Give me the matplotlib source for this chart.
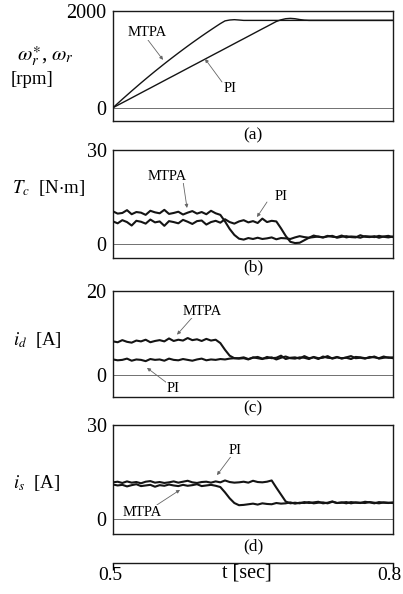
import numpy as np
import matplotlib
matplotlib.use("Agg")
import matplotlib.pyplot as plt

plt.rcParams['font.family'] = ['Liberation Serif', 'DejaVu Serif']
plt.rcParams['mathtext.fontset'] = 'stix'

# ---------------- data (sampled every 5 ms, 0.5 s .. 0.8 s) ----------------
t_grid = np.linspace(0.5, 0.8, 61)

speed_mtpa = [0, 88, 175, 260, 345, 428, 511, 592, 672, 751, 828, 905, 980, 1054,
              1127, 1199, 1270, 1340, 1408, 1476, 1542, 1607, 1671, 1734, 1790,
              1808, 1815, 1808, 1800] + [1800] * 32
speed_pi = [0, 51, 102, 152, 203, 254, 305, 356, 406, 457, 508, 559, 610, 660, 711,
            762, 813, 864, 914, 965, 1016, 1067, 1118, 1168, 1219, 1270, 1321, 1372,
            1422, 1473, 1524, 1575, 1626, 1676, 1727, 1778,
            1812, 1835, 1842, 1835, 1818, 1805] + [1800] * 19

te_mtpa = [10.4, 9.7, 9.9, 10.8, 9.5, 10.2, 10.0, 9.3, 10.6, 10.1, 9.8, 10.9, 9.6, 9.9,
           10.3, 9.4, 10.0, 10.5, 9.7, 10.2, 9.5, 10.6, 9.8, 9.3,
           7.2, 4.8, 2.9, 1.7, 1.4, 1.9, 1.6,
           2.0, 1.6, 1.8, 2.1, 1.5, 1.9, 1.8, 1.6,
           2.1, 2.5, 2.2, 2.0, 2.7, 2.3, 2.1, 2.4, 2.6, 2.0, 2.3, 2.5, 2.2, 2.1, 2.8,
           2.3, 2.2, 2.5, 2.0, 2.4, 2.6, 2.2]
te_pi = [7.2, 6.6, 7.6, 7.0, 5.9, 7.4, 7.1, 6.5, 7.8, 6.9, 7.2, 5.8, 7.3, 7.0, 6.6, 7.7,
         7.1, 6.4, 7.3, 7.5, 6.2, 7.0, 7.4, 6.8, 7.9, 7.0, 6.5, 7.2, 7.6, 6.9, 7.3, 6.7,
         8.1, 7.0, 7.4, 7.2,
         5.0, 2.6, 0.7, 0.3, 0.4, 1.2, 2.0,
         2.2, 2.4, 2.1, 2.6, 2.3, 2.2, 2.7, 2.1, 2.4, 2.3, 2.0, 2.5, 2.4, 2.2, 2.6,
         2.3, 2.1, 2.4]

id_mtpa = [8.0, 7.8, 8.3, 7.9, 7.7, 8.2, 8.0, 8.4, 7.8, 8.1, 8.3, 8.0, 8.7, 8.1, 8.4,
           8.2, 8.8, 8.3, 8.5, 8.1, 8.6, 8.2, 8.4,
           7.6, 6.0, 4.6, 4.0,
           3.9, 4.0, 3.7, 4.2, 4.0, 3.8, 4.3, 4.0, 4.1, 4.6, 3.8, 4.1, 4.2, 3.9, 4.5,
           4.0, 4.2, 3.8, 4.4, 4.1, 4.0, 4.3, 3.9, 4.2, 4.5, 4.0, 4.1, 3.9, 4.3, 4.2,
           4.0, 4.4, 4.1, 4.2]
id_pi = [3.7, 3.5, 3.6, 3.9, 3.4, 3.7, 3.6, 3.3, 3.8, 3.6, 3.7, 3.4, 3.9, 3.6, 3.5,
         3.8, 3.6, 3.4, 3.7, 3.9, 3.5, 3.7, 3.6, 3.8, 3.7, 3.9, 4.0,
         4.0, 4.2, 3.8, 4.1, 4.3, 3.9, 4.0, 4.2, 3.7, 4.1, 4.4, 4.0, 3.9, 4.2, 4.1,
         3.8, 4.3, 4.0, 4.1, 4.5, 3.9, 4.2, 4.0, 4.1, 3.8, 4.3, 4.2, 4.0, 4.1, 4.4,
         3.9, 4.1, 4.2, 4.0]

is_mtpa = [11.0, 10.7, 10.9, 10.4, 10.8, 11.1, 10.5, 10.7, 10.9, 10.3, 10.8, 10.6,
           11.0, 10.7, 10.5, 10.9, 10.6, 10.8, 11.1, 10.5, 10.7, 10.9, 10.6,
           10.2, 8.5, 6.6, 5.1, 4.4, 4.5,
           4.7, 4.9, 4.6, 5.0, 4.8, 4.7, 5.1, 4.9, 5.0, 5.3, 4.9, 5.2, 5.1, 5.4, 5.0,
           5.2, 5.3, 5.0, 5.5, 5.1, 5.2, 5.4, 5.0, 5.3, 5.2, 5.1, 5.4, 5.2, 5.0, 5.3,
           5.2, 5.1]
is_pi = [11.7, 11.9, 11.5, 12.0, 11.6, 11.8, 11.4, 11.9, 12.1, 11.6, 11.8, 11.5, 11.7,
         12.0, 11.6, 11.9, 12.2, 11.7, 11.5, 11.8, 11.9, 11.6, 12.0, 11.7, 12.3, 11.8,
         11.6, 11.7, 11.9, 11.6, 12.2, 11.8, 11.7, 11.9, 12.3,
         10.0, 7.8, 5.6, 5.0,
         5.2, 5.0, 5.4, 5.1, 5.3, 5.5, 5.0, 5.2, 5.6, 5.1, 5.3, 5.0, 5.4, 5.2, 5.1,
         5.5, 5.3, 5.0, 5.4, 5.2, 5.1, 5.3]

panel_tags = ['(a)', '(b)', '(c)', '(d)']
y_tops = [2000, 30, 20, 30]
y_bottoms = [-274, -4.47, -5.24, -4.79]
time_ticks = [0.5, 0.8]

# ---------------- layout ----------------
W, H = 403, 594
fig = plt.figure(figsize=(W / 100, H / 100), dpi=100)
fig.patch.set_facecolor('white')

def px_axes(left, top, right, bottom):
    return fig.add_axes([left / W, 1 - bottom / H, (right - left) / W, (bottom - top) / H])

frames = [(113, 10.7, 393, 121), (113, 150, 393, 258), (113, 291, 393, 397), (113, 425, 393, 534)]
series = [(speed_mtpa, speed_pi), (te_mtpa, te_pi), (id_mtpa, id_pi), (is_mtpa, is_pi)]
lws = [1.0, 1.5, 1.5, 1.5]

axes = []
for k, fr in enumerate(frames):
    ax = px_axes(*fr)
    axes.append(ax)
    ax.set_xlim(0.5, 0.8)
    ax.set_ylim(y_bottoms[k], y_tops[k])
    ax.axhline(0, color='0.35', lw=0.6, zorder=1)
    m, p = series[k]
    ax.plot(t_grid, p, color='0.08', lw=lws[k], zorder=3)
    ax.plot(t_grid, m, color='0.08', lw=lws[k], zorder=3)
    ax.set_xticks([])
    ax.set_yticks([0, y_tops[k]])
    ax.set_yticklabels(['0', str(y_tops[k])])
    ax.tick_params(axis='y', length=0, pad=4.5, labelsize=14.5)
    for s in ax.spines.values():
        s.set_linewidth(1.0)
        s.set_color('0.1')

# panel tags
tag_y = [135, 267, 408, 546]
for tag, yy in zip(panel_tags, tag_y):
    fig.text(253 / W, 1 - yy / H, tag, ha='center', va='center', fontsize=12.5)

# y-axis labels
fig.text(45 / W, 1 - 56 / H, r'$\omega_r^{\ast}$, $\omega_r$', ha='center', va='center', fontsize=15)
fig.text(32 / W, 1 - 80 / H, '[rpm]', ha='center', va='center', fontsize=13.5)
fig.text(49 / W, 1 - 188 / H, r'$T_c$  [N$\cdot$m]', ha='center', va='center', fontsize=13.5)
fig.text(37 / W, 1 - 340 / H, r'$i_d$  [A]', ha='center', va='center', fontsize=13.5)
fig.text(37 / W, 1 - 483 / H, r'$i_s$  [A]', ha='center', va='center', fontsize=13.5)

# annotations: (axis index, label, text pos, tail, tip) in data units
notes = [
    (0, 'MTPA', (0.5364, 1545), (0.5373, 1400), (0.5536, 986)),
    (0, 'PI', (0.6254, 405), (0.6168, 530), (0.5986, 1007)),
    (1, 'MTPA', (0.5579, 21.7), (0.5750, 20.1), (0.5793, 11.5)),
    (1, 'PI', (0.6800, 15.0), (0.6650, 13.4), (0.6543, 8.6)),
    (2, 'MTPA', (0.5954, 15.2), (0.5857, 13.9), (0.5686, 9.6)),
    (2, 'PI', (0.5643, -3.1), (0.5579, -1.9), (0.5364, 1.7)),
    (3, 'PI', (0.6307, 22.0), (0.6275, 20.4), (0.6114, 14.0)),
    (3, 'MTPA', (0.5311, 2.2), (0.5471, 4.5), (0.5718, 9.3)),
]
for k, lab, tpos, tail, tip in notes:
    ax = axes[k]
    ax.text(tpos[0], tpos[1], lab, ha='center', va='center', fontsize=10.5, zorder=5,
            bbox=dict(facecolor='white', edgecolor='none', pad=0.3))
    ax.annotate('', xy=tip, xytext=tail,
                arrowprops=dict(arrowstyle='-|>', color='0.4', lw=0.6,
                                mutation_scale=5, shrinkA=0, shrinkB=0), zorder=4)

# time axis bracket
tax = px_axes(113, 555, 393, 562.7)
tax.set_xlim(0.5, 0.8)
for side in ['top', 'left', 'right']:
    tax.spines[side].set_visible(False)
tax.spines['bottom'].set_linewidth(1.0)
tax.spines['bottom'].set_color('0.1')
tax.patch.set_alpha(0)
tax.set_yticks([])
tax.set_xticks(time_ticks)
tax.set_xticklabels([])
tax.tick_params(axis='x', direction='out', length=5, width=1.0)
fig.text(110 / W, 1 - 576 / H, '%.1f' % time_ticks[0], ha='center', va='center', fontsize=14)
fig.text(389 / W, 1 - 576 / H, '%.1f' % time_ticks[1], ha='center', va='center', fontsize=14)
fig.text(247 / W, 1 - 573 / H, 't [sec]', ha='center', va='center', fontsize=14.5)

fig.savefig('out.png', dpi=100, facecolor='white')
